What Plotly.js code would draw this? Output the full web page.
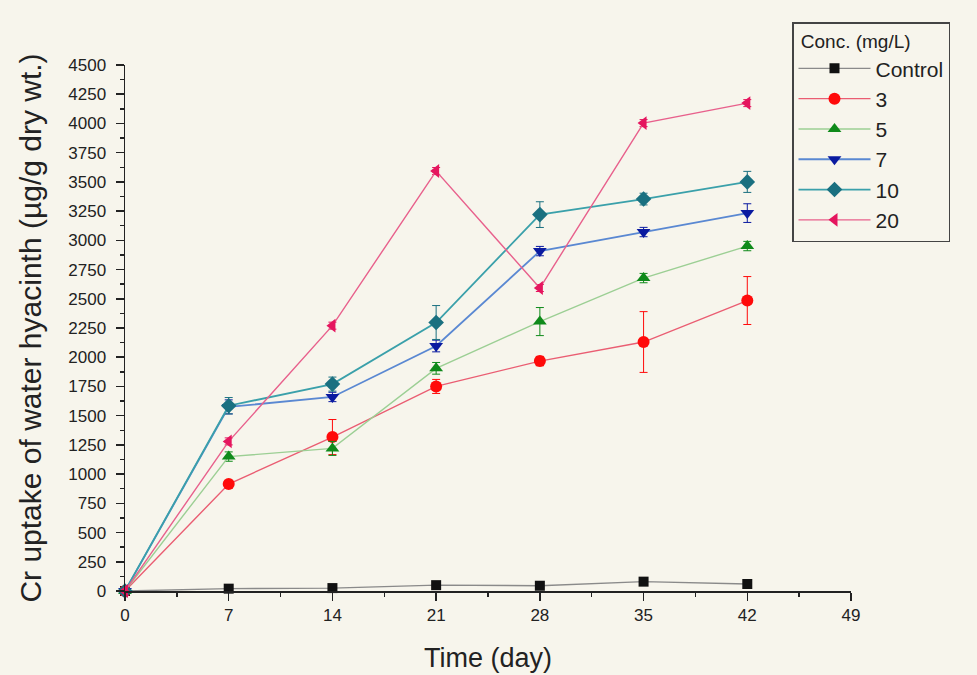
<!DOCTYPE html>
<html>
<head>
<meta charset="utf-8">
<script src="https://cdn.plot.ly/plotly-3.0.1.min.js"></script>
<style>html,body{margin:0;padding:0;background:#f7f5ec;}#chart{width:977px;height:675px;}</style>
</head>
<body>
<div id="chart"></div>
<script>
var days = [0, 7, 14, 21, 28, 35, 42];
var seriesNames = ["Control", "3", "5", "7", "10", "20"];
var control = [0, 20, 25, 50, 45, 80, 60];
var c3 = [0, 915, 1317, 1750, 1967, 2130, 2485];
var c5 = [0, 1150, 1220, 1905, 2305, 2677, 2951];
var c7 = [0, 1575, 1660, 2096, 2908, 3071, 3233];
var c10 = [0, 1585, 1770, 2297, 3220, 3353, 3500];
var c20 = [0, 1280, 2270, 3593, 2592, 4003, 4174];
var err3 = [0, 30, 150, 60, 40, 260, 205];
var err5 = [0, 40, 60, 50, 120, 40, 40];
var err7 = [0, 60, 40, 50, 40, 40, 80];
var err10 = [0, 70, 60, 145, 110, 50, 90];
var err20 = [0, 30, 30, 30, 30, 30, 30];
var errControl = [0, 5, 5, 10, 10, 10, 10];

var values = [control, c3, c5, c7, c10, c20];
var errors = [errControl, err3, err5, err7, err10, err20];
var markerColors = ["#111111", "#ff0a0a", "#0f8a1a", "#0a1aa0", "#1a7080", "#e5155e"];
var lineColors = ["#8a8a8a", "#ea5d72", "#9ccf94", "#5a88d2", "#3aa0aa", "#e8608c"];
var symbols = ["square", "circle", "triangle-up", "triangle-down", "diamond", "triangle-left"];
var sizes = [10, 12, 12, 12, 12, 12];

var traces = values.map(function (v, i) {
  return {
    x: days, y: v, name: seriesNames[i], type: "scatter", mode: "lines+markers",
    line: {color: lineColors[i], width: i === 4 || i === 3 ? 1.8 : 1.4},
    marker: {color: markerColors[i], symbol: symbols[i], size: sizes[i]},
    error_y: {type: "data", array: errors[i], visible: i !== 0, color: markerColors[i], thickness: 1, width: 4},
    cliponaxis: false
  };
});

var fam = "Liberation Sans, Arial, sans-serif";
var tickFont = {family: fam, size: 17, color: "#222"};
var layout = {
  width: 977, height: 675,
  paper_bgcolor: "#f7f5ec", plot_bgcolor: "#f7f5ec",
  margin: {l: 125, r: 126, t: 65, b: 84},
  showlegend: true,
  xaxis: {
    range: [0, 49], tickvals: [0, 7, 14, 21, 28, 35, 42, 49],
    ticks: "outside", ticklen: 8, tickwidth: 1.5, tickcolor: "#222",
    minor: {dtick: 3.5, ticks: "outside", ticklen: 4, tickcolor: "#222"},
    showline: true, linecolor: "#222", linewidth: 1.5, zeroline: false, showgrid: false,
    tickfont: tickFont,
    title: {text: "Time (day)", font: {family: fam, size: 27, color: "#222"}, standoff: 24}
  },
  yaxis: {
    range: [0, 4500], dtick: 250,
    ticks: "outside", ticklen: 8, tickwidth: 1.5, tickcolor: "#222",
    minor: {dtick: 125, ticks: "outside", ticklen: 4, tickcolor: "#222"},
    showline: true, linecolor: "#222", linewidth: 1.5, zeroline: false, showgrid: false,
    tickfont: tickFont, ticklabelstandoff: 6,
    title: {text: "Cr uptake of water hyacinth (µg/g dry wt.)", font: {family: fam, size: 30, color: "#222"}, standoff: 18}
  },
  legend: {
    bgcolor: "rgba(0,0,0,0)", bordercolor: "#444", borderwidth: 1.5,
    font: {family: fam, size: 21, color: "#222"},
    title: {text: " Conc. (mg/L)", font: {family: fam, size: 19, color: "#222"}},
    itemwidth: 72, tracegroupgap: 0, xanchor: "left", yanchor: "top"
  }
};
layout.legend.x = (792 - 125) / (977 - 125 - 126);
layout.legend.y = (675 - 84 - 22) / (675 - 65 - 84);

Plotly.newPlot("chart", traces, layout, {displayModeBar: false, staticPlot: true});
</script>
</body>
</html>
